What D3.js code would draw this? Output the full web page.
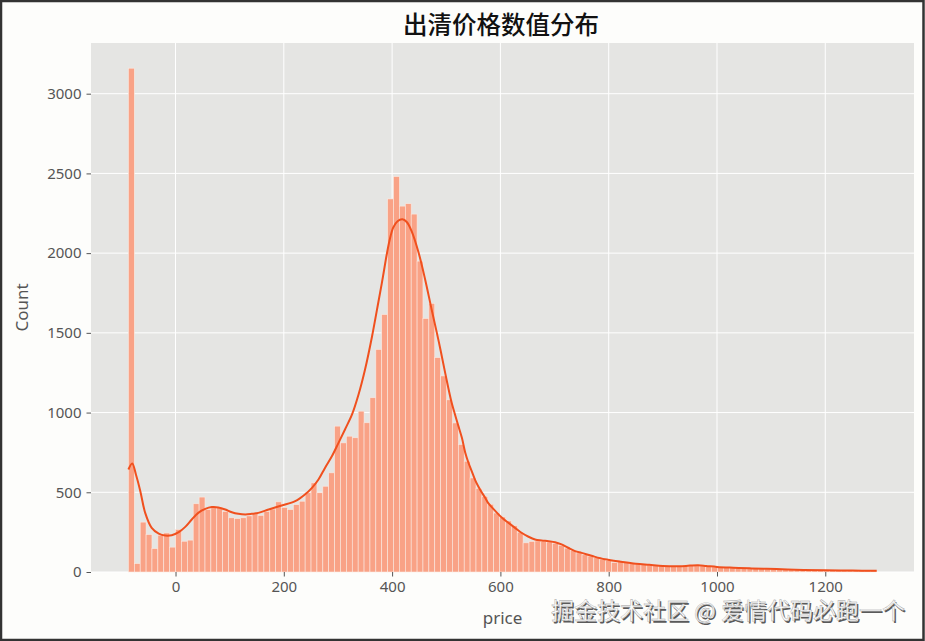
<!DOCTYPE html>
<html>
<head>
<meta charset="utf-8">
<script src="https://cdn.jsdelivr.net/npm/d3@7"></script>
<style>
  html, body { margin: 0; padding: 0; background: #fdfdfb; }
  svg { display: block; }
</style>
</head>
<body>
<script>
// ---------------- data ----------------
const titleText = "出清价格数值分布";
const xLabel = "price";
const yLabel = "Count";
const watermark = "掘金技术社区 @ 爱情代码必跑一个";

const binStart = -87;     // left edge of first bin (price)
const binWidth = 10.88;   // bin width (price)
const counts = [
  3160, 53, 313, 235, 147, 231, 245, 156, 267, 193,
  200, 428, 470, 392, 409, 405, 380, 340, 335, 340,
  352, 365, 355, 380, 395, 440, 405, 392, 423, 444,
  497, 559, 497, 538, 622, 915, 810, 852, 842, 1009,
  936, 1093, 1396, 1615, 2340, 2480, 2295, 2310, 2245, 1950,
  1590, 1685, 1345, 1230, 1080, 935, 800, 695, 590, 525,
  475, 425, 370, 345, 320, 290, 250, 183, 192, 195,
  192, 188, 180, 168, 150, 135, 120, 108, 100, 90,
  80, 72, 60, 66, 60, 55, 50, 47, 44, 41,
  39, 37, 36, 36, 40, 44, 43, 38, 34, 32,
  30, 28, 27, 25, 23, 22, 21, 20, 19, 18,
  16, 15, 14, 14, 13, 12, 12, 11, 11, 10,
  10, 9, 9, 9, 8, 8, 8
];

// KDE curve points
const kdePrice = [
  -87, -80, -73, -65, -56, -44, -31, -19, -7, 6,
  18, 30, 42, 55, 67, 79, 92, 104, 116, 129,
  141, 153, 172, 196, 221, 239, 252, 264, 276, 289,
  301, 313, 326, 338, 350, 363, 375, 383, 390, 396,
  402, 410, 419, 427, 436, 449, 461, 473, 486, 498,
  510, 516, 522, 529, 535, 541, 547, 553, 559, 566,
  572, 578, 590, 603, 615, 627, 639, 652, 664, 676,
  689, 701, 713, 725, 738, 750, 770, 793, 820, 850,
  875, 900, 930, 950, 965, 980, 1000, 1030, 1060, 1092,
  1130, 1160, 1200, 1250, 1295
];
const kdeCount = [
  643, 681, 610, 507, 371, 277, 241, 229, 231, 250,
  283, 329, 371, 396, 407, 405, 392, 375, 365, 361,
  365, 371, 392, 417, 444, 486, 528, 580, 653, 727,
  810, 894, 988, 1113, 1270, 1479, 1700, 1850, 1990, 2090,
  2160, 2200, 2212, 2195, 2138, 2002, 1835, 1647, 1448, 1249,
  1061, 990, 920, 840, 750, 685, 633, 580, 538, 497,
  465, 430, 385, 340, 308, 277, 246, 221, 204, 198,
  193, 187, 173, 152, 131, 120, 100, 80, 66, 52,
  45, 38, 36, 40, 42, 38, 32, 27, 23, 20,
  16, 13, 11, 9, 8
];

const xTicks = [0, 200, 400, 600, 800, 1000, 1200];
const yTicks = [0, 500, 1000, 1500, 2000, 2500, 3000];

// ---------------- drawing ----------------
const W = 925, H = 641;
const plot = { left: 91, right: 914, top: 43, bottom: 572 };

const svg = d3.select("body").append("svg")
  .attr("width", W).attr("height", H);

svg.append("rect").attr("x", 0).attr("y", 0).attr("width", W).attr("height", H)
  .attr("fill", "#fdfdfb");

const dataMin = binStart;
const dataMax = binStart + binWidth * counts.length;
const pad = (dataMax - dataMin) * 0.05;
const x = d3.scaleLinear().domain([dataMin - pad, dataMax + pad]).range([plot.left, plot.right]);
const yMax = d3.max(counts) * 1.05;
const y = d3.scaleLinear().domain([0, yMax]).range([plot.bottom, plot.top]);

// plot background
svg.append("rect")
  .attr("x", plot.left).attr("y", plot.top)
  .attr("width", plot.right - plot.left).attr("height", plot.bottom - plot.top)
  .attr("fill", "#e5e5e3");

// grid
const grid = svg.append("g");
grid.selectAll("line.gx").data(xTicks).join("line")
  .attr("x1", d => x(d)).attr("x2", d => x(d))
  .attr("y1", plot.top).attr("y2", plot.bottom)
  .attr("stroke", "#ffffff").attr("stroke-width", 1);
grid.selectAll("line.gy").data(yTicks).join("line")
  .attr("x1", plot.left).attr("x2", plot.right)
  .attr("y1", d => y(d)).attr("y2", d => y(d))
  .attr("stroke", "#ffffff").attr("stroke-width", 1);

// bars
const bins = counts.map((c, i) => ({ x0: binStart + i * binWidth, x1: binStart + (i + 1) * binWidth, c }));
svg.append("g").selectAll("rect").data(bins).join("rect")
  .attr("x", d => x(d.x0))
  .attr("y", d => y(d.c))
  .attr("width", d => x(d.x1) - x(d.x0))
  .attr("height", d => y(0) - y(d.c))
  .attr("fill", "#f9a286")
  .attr("stroke", "#fbe9e2")
  .attr("stroke-width", 0.6);

// KDE line
const kdePts = kdePrice.map((p, i) => [p, kdeCount[i]]);
svg.append("path")
  .datum(kdePts)
  .attr("d", d3.line().x(d => x(d[0])).y(d => y(d[1])).curve(d3.curveCatmullRom.alpha(0.5)))
  .attr("fill", "none")
  .attr("stroke", "#f0501e")
  .attr("stroke-width", 2);

// axes
const xAxis = d3.axisBottom(x).tickValues(xTicks).tickSize(4.5).tickPadding(5).tickFormat(d3.format("d"));
const gx = svg.append("g").attr("transform", `translate(0,${plot.bottom})`).call(xAxis);
const yAxis = d3.axisLeft(y).tickValues(yTicks).tickSize(4.5).tickPadding(5).tickFormat(d3.format("d"));
const gy = svg.append("g").attr("transform", `translate(${plot.left},0)`).call(yAxis);
[gx, gy].forEach(g => {
  g.select(".domain").remove();
  g.selectAll(".tick line").attr("stroke", "#555555").attr("stroke-width", 1);
  g.selectAll(".tick text")
    .attr("fill", "#555555")
    .style("font-family", "'Noto Sans', 'Open Sans', sans-serif")
    .style("font-size", "15px");
});

// axis labels
svg.append("text")
  .attr("x", (plot.left + plot.right) / 2).attr("y", 624)
  .attr("text-anchor", "middle")
  .attr("fill", "#555555")
  .style("font-family", "'Noto Sans', 'Open Sans', sans-serif")
  .style("font-size", "17px")
  .text(xLabel);
svg.append("text")
  .attr("transform", `translate(28,${(plot.top + plot.bottom) / 2}) rotate(-90)`)
  .attr("text-anchor", "middle")
  .attr("fill", "#555555")
  .style("font-family", "'Noto Sans', 'Open Sans', sans-serif")
  .style("font-size", "17px")
  .text(yLabel);

// title
svg.append("text")
  .attr("x", 501).attr("y", 34)
  .attr("text-anchor", "middle")
  .attr("fill", "#111111")
  .style("font-family", "'Noto Sans CJK SC', sans-serif")
  .style("font-weight", 500)
  .style("font-size", "24.5px")
  .text(titleText);

// watermark (sits just under the x tick labels as in the reference)
svg.append("text")
  .attr("x", 906.5).attr("y", 620.5)
  .attr("text-anchor", "end")
  .attr("fill", "#5a5a5a")
  .style("font-family", "'Noto Sans CJK SC', sans-serif")
  .style("font-size", "23px")
  .text(watermark);
svg.append("text")
  .attr("x", 905).attr("y", 619)
  .attr("text-anchor", "end")
  .attr("fill", "#fbfbfb")
  .attr("stroke", "#a0a0a0").attr("stroke-width", 0.4)
  .style("font-family", "'Noto Sans CJK SC', sans-serif")
  .style("font-size", "23px")
  .text(watermark);

// screenshot frame
svg.append("rect").attr("x", 1).attr("y", 1).attr("width", W - 2.5).attr("height", H - 2)
  .attr("fill", "none").attr("stroke", "#333333").attr("stroke-width", 2.5);
</script>
</body>
</html>
